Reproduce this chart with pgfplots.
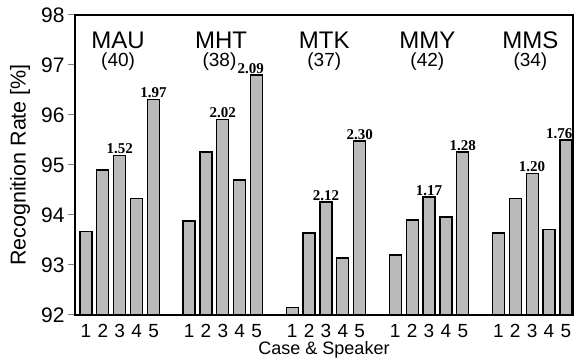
\documentclass[border=0pt]{standalone}
\usepackage{fontspec}
\setmainfont{Liberation Sans}
\newfontfamily\seriffont{Liberation Serif}
\usepackage{pgfplots}
\pgfplotsset{compat=1.18}
\begin{document}
\begin{tikzpicture}
\begin{axis}[
  at={(0,0)}, anchor=south west,
  scale only axis, width=498pt, height=300pt,
  xmin=-0.65, xmax=28.82, ymin=92, ymax=98,
  ytick={92,93,94,95,96,97,98},
  /pgf/number format/assume math mode=true,
  tick label style={font=\fontsize{21}{21}\selectfont},
  xticklabel style={font=\fontsize{19}{19}\selectfont, inner sep=0pt, yshift=-2.5pt},
  xtick={0,1,2,3,4, 6.1,7.1,8.1,9.1,10.1, 12.2,13.2,14.2,15.2,16.2, 18.3,19.3,20.3,21.3,22.3, 24.4,25.4,26.4,27.4,28.4},
  xticklabels={1,2,3,4,5,1,2,3,4,5,1,2,3,4,5,1,2,3,4,5,1,2,3,4,5},
  xtick style={draw=none},
  ytick pos=left, tick align=outside, major tick length=7pt,
  ytick style={line width=1pt},
  axis line style={line width=1.2pt},
  xlabel={Case \& Speaker}, ylabel={Recognition Rate [\%]},
  xlabel style={font=\fontsize{18}{18}\selectfont, at={(axis description cs:0.5,0)}, anchor=north, inner sep=0pt, yshift=-26pt},
  ylabel style={font=\fontsize{21.5}{21.5}\selectfont, at={(axis description cs:0,0.5)}, anchor=center, yshift=55pt},
]
\addplot[ybar, bar width=12pt, bar shift=0pt, fill=black!27, draw=black, line width=1.2pt] coordinates {
 (0,93.67) (1,94.90) (2,95.19) (3,94.33) (4,96.31)
 (6.1,93.88) (7.1,95.26) (8.1,95.91) (9.1,94.70) (10.1,96.80)
 (12.2,92.15) (13.2,93.64) (14.2,94.26) (15.2,93.14) (16.2,95.48)
 (18.3,93.20) (19.3,93.90) (20.3,94.36) (21.3,93.96) (22.3,95.26)
 (24.4,93.64) (25.4,94.33) (26.4,94.83) (27.4,93.71) (28.4,95.50)
};
\begin{scope}[every node/.style={font=\seriffont\bfseries\fontsize{15}{15}\selectfont, anchor=south, inner sep=1.5pt}]
\node at (axis cs:2,95.19) {1.52};
\node at (axis cs:4,96.31) {1.97};
\node at (axis cs:8.1,95.91) {2.02};
\node at (axis cs:9.75,96.80) {2.09};
\node at (axis cs:14.2,94.26) {2.12};
\node at (axis cs:16.2,95.48) {2.30};
\node at (axis cs:20.3,94.36) {1.17};
\node at (axis cs:22.3,95.26) {1.28};
\node at (axis cs:26.4,94.83) {1.20};
\node at (axis cs:28.0,95.50) {1.76};
\end{scope}
\begin{scope}[every node/.style={font=\fontsize{24}{24}\selectfont, inner sep=0pt}]
\node at (axis cs:1.9,97.5) {MAU};
\node at (axis cs:8.0,97.5) {MHT};
\node at (axis cs:14.1,97.5) {MTK};
\node at (axis cs:20.2,97.5) {MMY};
\node at (axis cs:26.3,97.5) {MMS};
\end{scope}
\begin{scope}[every node/.style={font=\fontsize{19}{19}\selectfont, inner sep=0pt}]
\node at (axis cs:1.9,97.06) {(40)};
\node at (axis cs:7.9,97.06) {(38)};
\node at (axis cs:14.1,97.06) {(37)};
\node at (axis cs:20.2,97.06) {(42)};
\node at (axis cs:26.3,97.06) {(34)};
\end{scope}
\end{axis}
\pgfresetboundingbox
\path[use as bounding box] (-75pt,-43pt) rectangle (501pt,315pt);
\end{tikzpicture}
\end{document}
